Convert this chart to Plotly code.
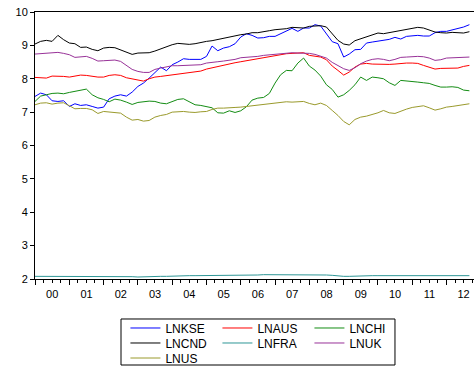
import pandas as pd
import plotly.graph_objects as go

dates = pd.date_range("2000-01-01", periods=77, freq="2MS")

LNKSE = [7.47, 7.57, 7.52, 7.34, 7.32, 7.34, 7.17, 7.25, 7.20, 7.22, 7.17, 7.12, 7.15, 7.40, 7.48, 7.52, 7.48, 7.60,
         7.77, 7.87, 8.02, 8.18, 8.35, 8.24, 8.42, 8.50, 8.60, 8.58, 8.57, 8.58, 8.67, 8.98, 8.84, 8.92, 8.96, 9.05,
         9.25, 9.35, 9.30, 9.22, 9.23, 9.27, 9.27, 9.35, 9.45, 9.51, 9.42, 9.52, 9.52, 9.62, 9.58, 9.35, 9.11, 9.05,
         8.65, 8.74, 8.87, 8.88, 9.07, 9.10, 9.12, 9.14, 9.18, 9.24, 9.19, 9.27, 9.29, 9.30, 9.28, 9.28, 9.38, 9.42,
         9.42, 9.46, 9.52, 9.55, 9.62]
LNAUS = [8.04, 8.03, 8.02, 8.08, 8.08, 8.07, 8.05, 8.08, 8.11, 8.10, 8.07, 8.05, 8.05, 8.10, 8.12, 8.10, 8.03, 7.99,
         7.97, 7.93, 8.00, 8.05, 8.07, 8.09, 8.12, 8.13, 8.15, 8.18, 8.20, 8.23, 8.29, 8.33, 8.37, 8.41, 8.44, 8.48,
         8.51, 8.54, 8.56, 8.59, 8.62, 8.66, 8.69, 8.72, 8.75, 8.76, 8.78, 8.78, 8.70, 8.67, 8.65, 8.57, 8.38, 8.25,
         8.11, 8.20, 8.35, 8.44, 8.46, 8.44, 8.43, 8.42, 8.43, 8.44, 8.46, 8.47, 8.47, 8.46, 8.40, 8.35, 8.29, 8.31,
         8.32, 8.32, 8.32, 8.37, 8.40]
LNCHI = [7.32, 7.48, 7.52, 7.56, 7.57, 7.55, 7.59, 7.63, 7.67, 7.69, 7.52, 7.43, 7.38, 7.31, 7.39, 7.36, 7.30, 7.23,
         7.29, 7.32, 7.33, 7.32, 7.27, 7.25, 7.32, 7.38, 7.40, 7.30, 7.22, 7.20, 7.17, 7.13, 6.98, 6.97, 7.04, 6.99,
         7.04, 7.16, 7.36, 7.42, 7.44, 7.56, 7.87, 8.12, 8.25, 8.24, 8.47, 8.62, 8.38, 8.26, 8.08, 7.82, 7.68, 7.45,
         7.52, 7.65, 7.82, 8.05, 7.95, 8.05, 8.03, 8.00, 7.88, 7.80, 7.95, 7.94, 7.92, 7.90, 7.88, 7.86, 7.80, 7.75,
         7.75, 7.76, 7.74, 7.66, 7.64]
LNCND = [9.04, 9.12, 9.15, 9.12, 9.30, 9.17, 9.07, 9.05, 8.94, 8.95, 8.88, 8.84, 8.92, 8.94, 8.93, 8.86, 8.78, 8.73,
         8.77, 8.77, 8.78, 8.83, 8.90, 8.96, 9.02, 9.06, 9.04, 9.03, 9.05, 9.09, 9.12, 9.14, 9.18, 9.21, 9.24, 9.28,
         9.32, 9.34, 9.38, 9.38, 9.40, 9.44, 9.47, 9.48, 9.50, 9.54, 9.53, 9.52, 9.57, 9.58, 9.59, 9.55, 9.35, 9.15,
         9.04, 9.01, 9.14, 9.20, 9.24, 9.30, 9.37, 9.35, 9.38, 9.40, 9.45, 9.48, 9.51, 9.54, 9.52, 9.47, 9.40, 9.38,
         9.37, 9.39, 9.38, 9.37, 9.41]
LNFRA = [2.08, 2.08, 2.08, 2.08, 2.08, 2.08, 2.08, 2.08, 2.09, 2.08, 2.08, 2.09, 2.08, 2.08, 2.08, 2.07, 2.07, 2.07,
         2.06, 2.07, 2.07, 2.08, 2.08, 2.08, 2.09, 2.09, 2.09, 2.10, 2.10, 2.10, 2.11, 2.11, 2.11, 2.12, 2.12, 2.12,
         2.12, 2.12, 2.12, 2.12, 2.13, 2.13, 2.13, 2.13, 2.13, 2.14, 2.14, 2.13, 2.13, 2.12, 2.12, 2.12, 2.11, 2.09,
         2.08, 2.08, 2.09, 2.09, 2.10, 2.10, 2.10, 2.10, 2.09, 2.10, 2.10, 2.10, 2.10, 2.10, 2.09, 2.09, 2.10, 2.09,
         2.09, 2.09, 2.10, 2.10, 2.10]
LNUK = [8.74, 8.75, 8.76, 8.76, 8.79, 8.76, 8.72, 8.64, 8.65, 8.67, 8.61, 8.53, 8.54, 8.56, 8.56, 8.52, 8.40, 8.28,
        8.22, 8.19, 8.19, 8.28, 8.32, 8.36, 8.39, 8.39, 8.40, 8.40, 8.41, 8.42, 8.47, 8.48, 8.51, 8.53, 8.55, 8.58,
        8.63, 8.64, 8.65, 8.67, 8.70, 8.72, 8.74, 8.76, 8.78, 8.78, 8.77, 8.77, 8.76, 8.73, 8.68, 8.62, 8.49, 8.40,
        8.30, 8.25, 8.33, 8.45, 8.53, 8.58, 8.60, 8.58, 8.54, 8.58, 8.64, 8.65, 8.67, 8.67, 8.66, 8.62, 8.55, 8.57,
        8.62, 8.63, 8.64, 8.64, 8.65]
LNUS = [7.22, 7.27, 7.28, 7.24, 7.27, 7.28, 7.19, 7.10, 7.11, 7.11, 7.07, 6.96, 7.02, 7.00, 6.99, 6.97, 6.85, 6.76,
        6.78, 6.73, 6.75, 6.85, 6.90, 6.93, 7.00, 7.01, 7.02, 7.00, 6.99, 7.01, 7.02, 7.08, 7.12, 7.12, 7.12, 7.14,
        7.15, 7.17, 7.19, 7.20, 7.22, 7.24, 7.27, 7.29, 7.31, 7.30, 7.30, 7.32, 7.26, 7.22, 7.27, 7.20, 7.05, 6.90,
        6.72, 6.62, 6.78, 6.85, 6.88, 6.92, 6.98, 7.05, 6.98, 6.96, 7.03, 7.09, 7.14, 7.17, 7.19, 7.13, 7.06, 7.10,
        7.15, 7.17, 7.19, 7.22, 7.25]

series = [
    ("LNKSE", LNKSE, "#0000ff", "legend"),
    ("LNAUS", LNAUS, "#ff0000", "legend"),
    ("LNCHI", LNCHI, "#138c13", "legend"),
    ("LNCND", LNCND, "#000000", "legend2"),
    ("LNFRA", LNFRA, "#2e9696", "legend2"),
    ("LNUK", LNUK, "#983298", "legend2"),
    ("LNUS", LNUS, "#9a9a2c", "legend3"),
]

fig = go.Figure()
for name, vals, color, leg in series:
    fig.add_trace(go.Scatter(x=dates, y=vals, name=name, mode="lines",
                             line=dict(color=color, width=1), legend=leg))

FONT = "Liberation Sans, Arial, sans-serif"
leg_common = dict(orientation="h", xref="paper", yref="paper", xanchor="left", yanchor="middle",
                  x=0.206, font=dict(family=FONT, size=12, color="#000"), entrywidth=47,
                  bgcolor="rgba(0,0,0,0)", borderwidth=0, tracegroupgap=0, itemwidth=30)

fig.update_layout(
    width=474, height=366,
    margin=dict(l=35, r=0, t=12, b=87, autoexpand=False),
    paper_bgcolor="white", plot_bgcolor="white",
    font=dict(family=FONT, size=11, color="#000"),
    showlegend=True,
    legend=dict(leg_common, y=-0.1835),
    legend2=dict(leg_common, y=-0.2397),
    legend3=dict(leg_common, y=-0.2959),
    xaxis=dict(type="date", range=["2000-01-01", "2012-10-20"], tickformat="%y", dtick="M12",
               tick0="2000-01-01", ticklabelmode="period", ticks="outside", ticklen=5, tickcolor="#000",
               showline=True, linecolor="#000", linewidth=1, mirror=True, showgrid=False, zeroline=False,
               automargin=False,
               minor=dict(dtick="M3", ticks="outside", ticklen=3, tickcolor="#000", showgrid=False),
               tickfont=dict(family=FONT, size=11, color="#000")),
    yaxis=dict(range=[2, 10], dtick=1, tick0=2, ticks="outside", ticklen=4, tickcolor="#000",
               showline=True, linecolor="#000", linewidth=1, showgrid=False, zeroline=False,
               automargin=False,
               tickfont=dict(family=FONT, size=11, color="#000")),
    shapes=[dict(type="rect", xref="paper", yref="paper", x0=0.1959, x1=0.8200, y0=-0.1498, y1=-0.3221,
                 line=dict(color="#000", width=1), fillcolor="rgba(0,0,0,0)")],
)

fig.write_html("out.html", config={"displayModeBar": False},
               post_script="document.body.style.margin='0';document.body.style.overflow='hidden';")
